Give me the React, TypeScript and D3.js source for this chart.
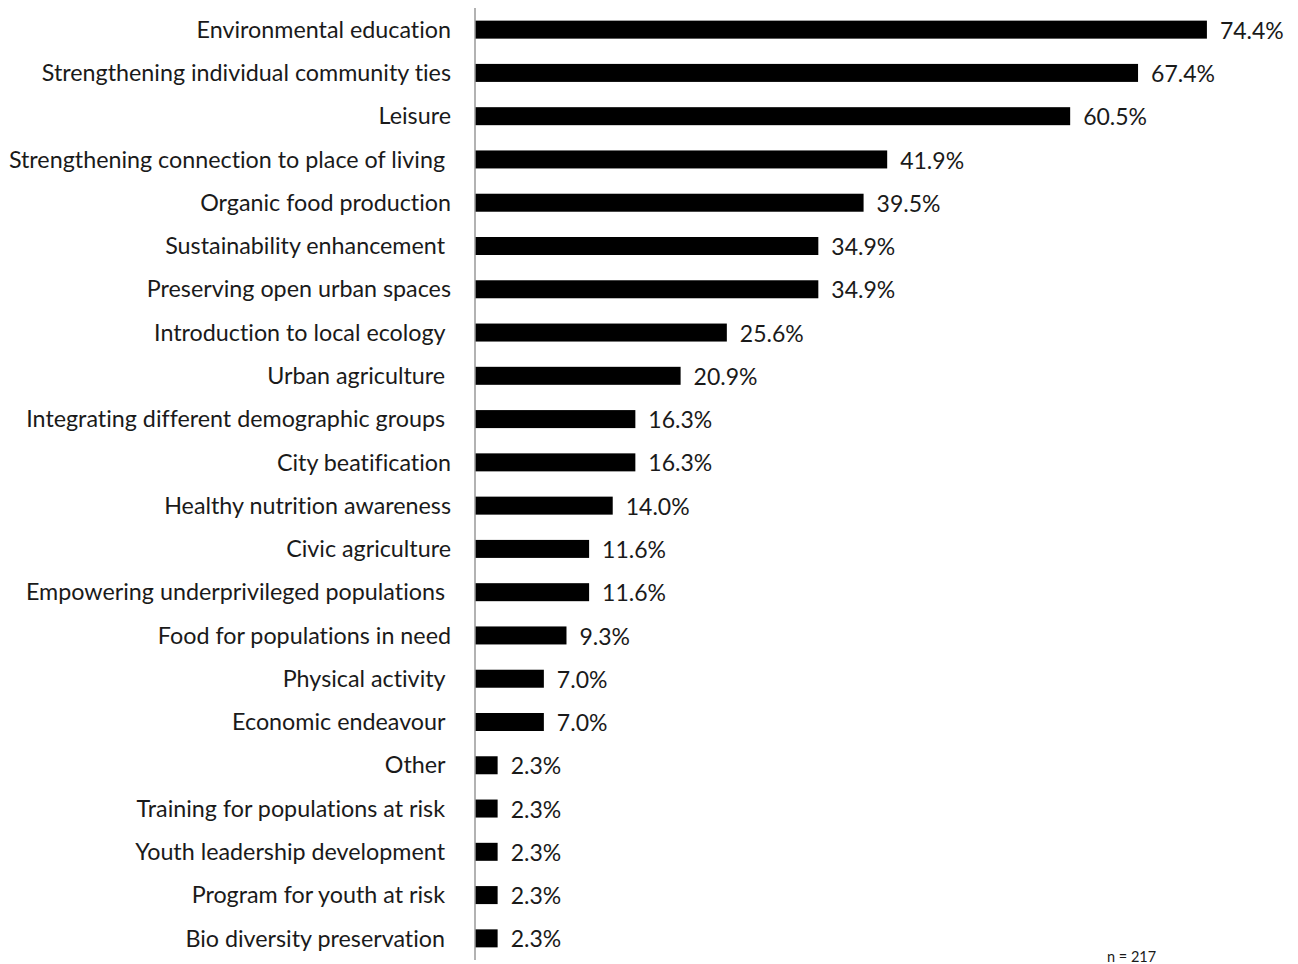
import React from "react";
import * as d3 from "d3";

const categories = [
  "Environmental education",
  "Strengthening individual community ties",
  "Leisure",
  "Strengthening connection to place of living ",
  "Organic food production",
  "Sustainability enhancement ",
  "Preserving open urban spaces",
  "Introduction to local ecology ",
  "Urban agriculture ",
  "Integrating different demographic groups ",
  "City beatification",
  "Healthy nutrition awareness",
  "Civic agriculture",
  "Empowering underprivileged populations ",
  "Food for populations in need",
  "Physical activity ",
  "Economic endeavour ",
  "Other ",
  "Training for populations at risk ",
  "Youth leadership development ",
  "Program for youth at risk ",
  "Bio diversity preservation ",
];

const values = [
  74.4, 67.4, 60.5, 41.9, 39.5, 34.9, 34.9, 25.6, 20.9, 16.3, 16.3, 14.0, 11.6,
  11.6, 9.3, 7.0, 7.0, 2.3, 2.3, 2.3, 2.3, 2.3,
];

const note = "n = 217";

const W = 1298;
const H = 964;
const FONT = "Lato, 'Open Sans', sans-serif";

export default function App() {
  const x = d3.scaleLinear().domain([0, 80]).range([475, 475 + 787]);
  const y = d3.scaleBand<string>().domain(categories).range([8, 960]).padding(0);
  const barH = 18;

  return (
    <svg
      width={W}
      height={H}
      style={{ position: "absolute", left: 0, top: 0, background: "#fff", fontVariantLigatures: "none" }}
      fontFamily={FONT}
    >
      <rect x={0} y={0} width={W} height={H} fill="#fff" />
      {categories.map((c, i) => {
        const cy = (y(c) as number) + y.bandwidth() / 2;
        return (
          <g key={i}>
            <rect
              x={x(0)}
              y={cy - barH / 2}
              width={x(values[i]) - x(0)}
              height={barH}
              fill="#000"
            />
            <text
              x={451}
              y={cy}
              dy="0.35em"
              textAnchor="end"
              fontSize={23.3}
              fill="#1a1a1a"
              style={{ whiteSpace: "pre" }}
            >
              {c}
            </text>
            <text
              x={x(values[i]) + 13}
              y={cy + 1}
              dy="0.35em"
              textAnchor="start"
              fontSize={23}
              fill="#1a1a1a"
            >
              {values[i].toFixed(1) + "%"}
            </text>
          </g>
        );
      })}
      <line x1={x(0)} x2={x(0)} y1={8} y2={960} stroke="#999" strokeWidth={1.5} />
      <text x={1107} y={957} dy="0.35em" fontSize={14.5} fill="#1a1a1a">
        {note}
      </text>
    </svg>
  );
}
